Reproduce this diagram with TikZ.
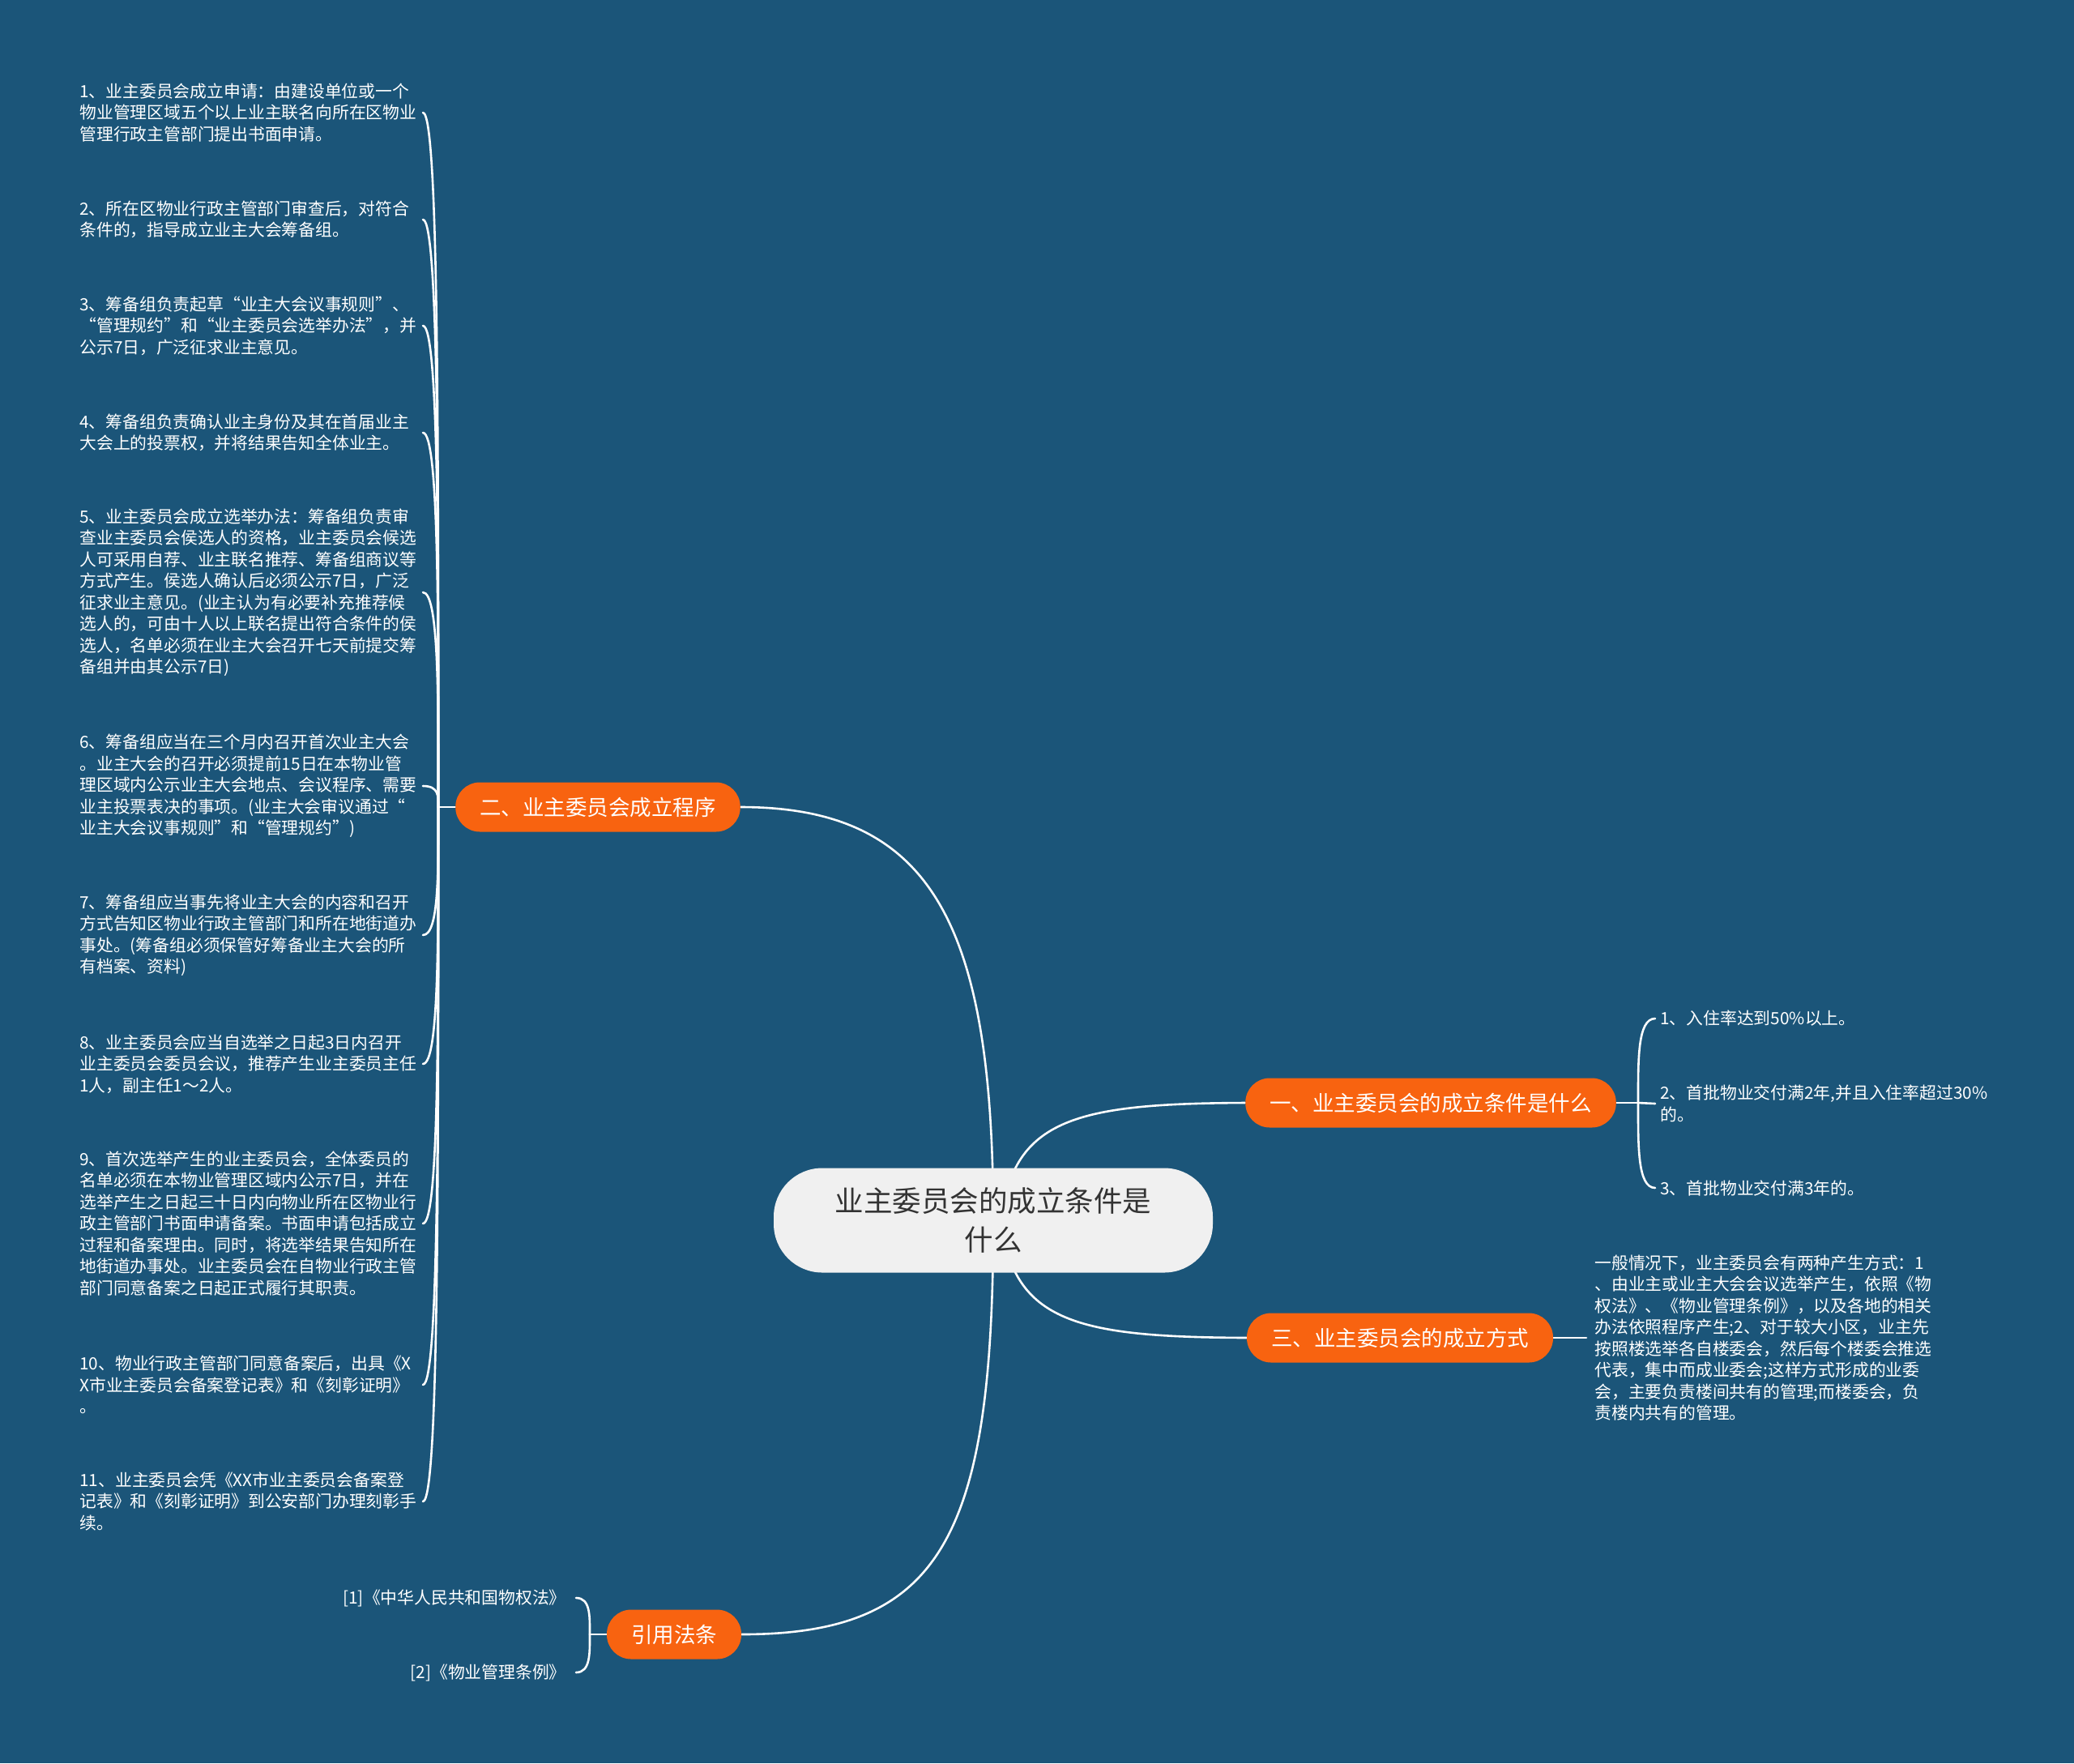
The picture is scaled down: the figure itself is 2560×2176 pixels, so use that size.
\documentclass[tikz,border=0pt]{standalone}
\usepackage{fontspec}
\setmainfont{Noto Sans CJK SC}
\usetikzlibrary{calc}
\definecolor{bgblue}{RGB}{27,85,121}
\definecolor{orng}{RGB}{248,99,16}
\definecolor{rootfill}{RGB}{240,240,240}
\definecolor{roottext}{RGB}{51,51,51}
\pgfdeclarelayer{back}
\pgfdeclarelayer{edges}
\pgfsetlayers{back,edges,main}
\begin{document}
\begin{tikzpicture}[x=0.5pt,y=-0.5pt,
  root/.style={fill=rootfill, text=roottext, rounded corners=30pt, minimum width=271pt, minimum height=64.5pt, align=center, inner sep=0pt, font=\fontsize{17.75}{24}\selectfont},
  topic/.style={fill=orng, text=white, rounded corners=15pt, minimum height=30.5pt, inner xsep=15pt, inner ysep=0pt, font=\fontsize{13.25}{16}\selectfont},
  leaf/.style={text=white, align=left, inner sep=0pt, font=\fontsize{10.4}{13.25}\selectfont},
  conn/.style={draw=white, line width=1.3pt, line cap=round}
]
\useasboundingbox (0,0) rectangle (2560,2176);
\begin{pgfonlayer}{back}
\fill[bgblue] (0,0) rectangle (2560,2176);
\end{pgfonlayer}

% main nodes
\node[root] (c) at (1226,1506) {业主委员会的成立条件是\\什么};
\node[topic] (n2) at (738,996) {二、业主委员会成立程序};
\node[topic] (n1) at (1766,1361) {一、业主委员会的成立条件是什么};
\node[topic] (n3) at (1728,1651) {三、业主委员会的成立方式};
\node[topic] (n4) at (832,2017) {引用法条};

% left leaves
\node[leaf, anchor=west] (i1) at (98,139) {1、业主委员会成立申请：由建设单位或一个\\物业管理区域五个以上业主联名向所在区物业\\管理行政主管部门提出书面申请。};
\node[leaf, anchor=west] (i2) at (98,271) {2、所在区物业行政主管部门审查后，对符合\\条件的，指导成立业主大会筹备组。};
\node[leaf, anchor=west] (i3) at (98,402) {3、筹备组负责起草“业主大会议事规则”、\\“管理规约”和“业主委员会选举办法”，并\\公示7日，广泛征求业主意见。};
\node[leaf, anchor=west] (i4) at (98,534) {4、筹备组负责确认业主身份及其在首届业主\\大会上的投票权，并将结果告知全体业主。};
\node[leaf, anchor=west] (i5) at (98,731) {5、业主委员会成立选举办法：筹备组负责审\\查业主委员会侯选人的资格，业主委员会候选\\人可采用自荐、业主联名推荐、筹备组商议等\\方式产生。侯选人确认后必须公示7日，广泛\\征求业主意见。(业主认为有必要补充推荐候\\选人的，可由十人以上联名提出符合条件的侯\\选人，名单必须在业主大会召开七天前提交筹\\备组并由其公示7日)};
\node[leaf, anchor=west] (i6) at (98,970) {6、筹备组应当在三个月内召开首次业主大会\\。业主大会的召开必须提前15日在本物业管\\理区域内公示业主大会地点、会议程序、需要\\业主投票表决的事项。(业主大会审议通过“\\业主大会议事规则”和“管理规约”)};
\node[leaf, anchor=west] (i7) at (98,1154) {7、筹备组应当事先将业主大会的内容和召开\\方式告知区物业行政主管部门和所在地街道办\\事处。(筹备组必须保管好筹备业主大会的所\\有档案、资料)};
\node[leaf, anchor=west] (i8) at (98,1313) {8、业主委员会应当自选举之日起3日内召开\\业主委员会委员会议，推荐产生业主委员主任\\1人，副主任1～2人。};
\node[leaf, anchor=west] (i9) at (98,1510) {9、首次选举产生的业主委员会，全体委员的\\名单必须在本物业管理区域内公示7日，并在\\选举产生之日起三十日内向物业所在区物业行\\政主管部门书面申请备案。书面申请包括成立\\过程和备案理由。同时，将选举结果告知所在\\地街道办事处。业主委员会在自物业行政主管\\部门同意备案之日起正式履行其职责。};
\node[leaf, anchor=west] (i10) at (98,1709) {10、物业行政主管部门同意备案后，出具《X\\X市业主委员会备案登记表》和《刻彰证明》\\。};
\node[leaf, anchor=west] (i11) at (98,1853) {11、业主委员会凭《XX市业主委员会备案登\\记表》和《刻彰证明》到公安部门办理刻彰手\\续。};

% right leaves (一)
\node[leaf, anchor=west] (r1) at (2049,1257) {1、入住率达到50\%以上。};
\node[leaf, anchor=west] (r2) at (2049,1362) {2、首批物业交付满2年,并且入住率超过30\%\\的。};
\node[leaf, anchor=west] (r3) at (2049,1466) {3、首批物业交付满3年的。};

% 三 leaf
\node[leaf, anchor=west, inner xsep=5pt] (t3) at (1958,1651) {一般情况下，业主委员会有两种产生方式：1\\、由业主或业主大会会议选举产生，依照《物\\权法》、《物业管理条例》，以及各地的相关\\办法依照程序产生;2、对于较大小区，业主先\\按照楼选举各自楼委会，然后每个楼委会推选\\代表，集中而成业委会;这样方式形成的业委\\会，主要负责楼间共有的管理;而楼委会，负\\责楼内共有的管理。};

% 引用 leaves
\node[leaf, anchor=east] (b1) at (699,1972) {[1]《中华人民共和国物权法》};
\node[leaf, anchor=east] (b2) at (699,2064) {[2]《物业管理条例》};

% junction coordinates
\coordinate (J2) at (541,996);
\coordinate (L) at (522,0);
\coordinate (J1) at (2022,1361);
\coordinate (R) at (2043,0);
\coordinate (J4) at (728,2017);
\coordinate (B) at (711,0);
\coordinate (cs) at (1236,1506);

\begin{pgfonlayer}{edges}
% root connectors
\draw[conn] (c.center) .. controls (1226,1140) and (1150,996) .. (n2.east);
\draw[conn] (c.center) .. controls (1226,1900) and (1160,2017) .. (n4.east);
\draw[conn] (cs) .. controls (1250,1380) and (1330,1362) .. (n1.west);
\draw[conn] (cs) .. controls (1250,1632) and (1330,1650) .. (n3.west);

% left bracket
\draw[conn] (n2.west) -- (J2);
\draw[conn] (J2) .. controls +(0,-428) and +(20,0) .. (L |- i1);
\draw[conn] (J2) .. controls +(0,-362) and +(20,0) .. (L |- i2);
\draw[conn] (J2) .. controls +(0,-297) and +(20,0) .. (L |- i3);
\draw[conn] (J2) .. controls +(0,-231) and +(20,0) .. (L |- i4);
\draw[conn] (J2) .. controls +(0,-132) and +(20,0) .. (L |- i5);
\draw[conn] (J2) .. controls +(0,-13) and +(20,0) .. (L |- i6);
\draw[conn] (J2) .. controls +(0,79) and +(20,0) .. (L |- i7);
\draw[conn] (J2) .. controls +(0,158) and +(20,0) .. (L |- i8);
\draw[conn] (J2) .. controls +(0,257) and +(20,0) .. (L |- i9);
\draw[conn] (J2) .. controls +(0,356) and +(20,0) .. (L |- i10);
\draw[conn] (J2) .. controls +(0,428) and +(20,0) .. (L |- i11);

% right bracket (一)
\draw[conn] (n1.east) -- (J1);
\draw[conn] (J1) .. controls +(0,-52) and +(-22,0) .. (R |- r1);
\draw[conn] (J1) -- (R |- r2);
\draw[conn] (J1) .. controls +(0,52) and +(-22,0) .. (R |- r3);

% 三
\draw[conn] (n3.east) -- (t3.west);

% 引用 bracket
\draw[conn] (n4.west) -- (J4);
\draw[conn] (J4) .. controls +(0,-22) and +(18,0) .. (B |- b1);
\draw[conn] (J4) .. controls +(0,23) and +(18,0) .. (B |- b2);
\end{pgfonlayer}
\end{tikzpicture}
\end{document}
